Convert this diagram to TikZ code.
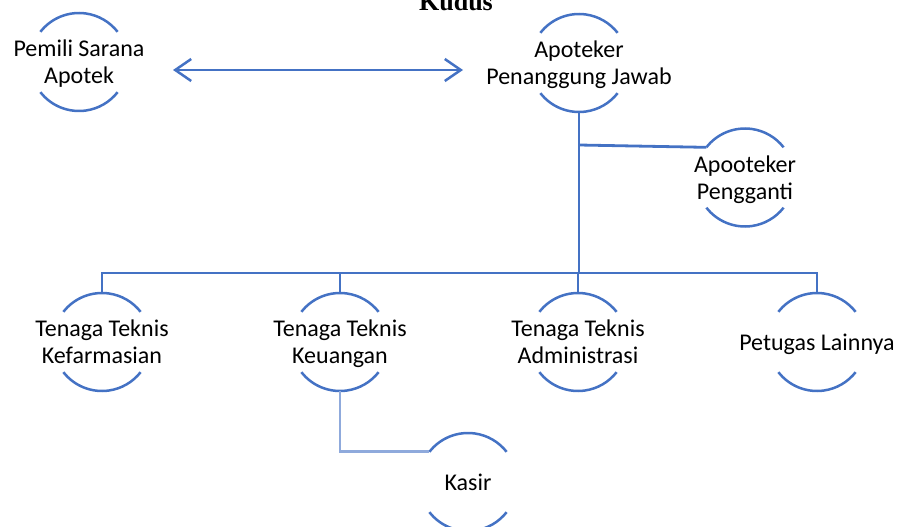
\documentclass[tikz,border=0pt]{standalone}
\usepackage{fontspec}
\setmainfont{Carlito}
\newfontfamily\titlefont{Liberation Serif}
\usetikzlibrary{calc,arrows.meta}
\definecolor{orgblue}{HTML}{4472C4}
\definecolor{lightorg}{HTML}{8FAADC}
% arcs are centred 3pt above the text centre
\newcommand\orgarcs[1]{%
  \draw[arcline] ($(#1.center)+(0,3)+(142:49pt)$) arc[start angle=142,end angle=38,radius=49pt];
  \draw[arcline] ($(#1.center)+(0,3)+(218:49pt)$) arc[start angle=218,end angle=322,radius=49pt];}
\newcommand\orgln[1]{\strut#1}
\begin{document}
\begin{tikzpicture}[x=1pt,y=1pt,
  lbl/.style={align=center,font=\fontsize{24}{27}\selectfont,inner sep=0pt},
  arcline/.style={draw=orgblue,line width=2.5pt},
  conn/.style={draw=orgblue,line width=2.8pt},
  kconn/.style={draw=lightorg,line width=2.8pt},
  barb/.tip={Straight Barb[length=16pt,width=22pt,line width=2.5pt]}]
\useasboundingbox (0,0) rectangle (898,-527);
\node[anchor=base,font=\titlefont\bfseries\fontsize{26}{30}\selectfont,inner sep=0pt] (title) at (456,-11) {Kudus};
\node[lbl] (pem) at (79,-65) {\orgln{Pemili Sarana}\\\orgln{Apotek}};
\node[lbl] (apj) at (579,-66) {\orgln{Apoteker}\\\orgln{Penanggung Jawab}};
\node[lbl] (apg) at (745,-180.5) {\orgln{Apooteker}\\\orgln{Pengganti}};
\node[lbl] (ttk) at (102,-345) {\orgln{Tenaga Teknis}\\\orgln{Kefarmasian}};
\node[lbl] (ttu) at (340,-345) {\orgln{Tenaga Teknis}\\\orgln{Keuangan}};
\node[lbl] (tta) at (578,-345) {\orgln{Tenaga Teknis}\\\orgln{Administrasi}};
\node[lbl] (pl) at (817,-345) {\orgln{Petugas Lainnya}};
\node[lbl] (ks) at (468,-485) {\orgln{Kasir}};
\orgarcs{pem}\orgarcs{apj}\orgarcs{apg}\orgarcs{ttk}\orgarcs{ttu}\orgarcs{tta}\orgarcs{pl}\orgarcs{ks}
% arrow
\draw[conn,line width=2.5pt,barb-barb] ($(pem.center)+(94,-5)$) -- ($(apj.center)+(-116,-4)$);
% trunk
\draw[conn] ($(apj.center)+(0,-46)$) -- ($(apj.center)+(0,-207)$);
\draw[conn] ($(apj.center)+(0,-79)$) -- ($(apg.center)+(0,3)+(142:49pt)$);
% bus
\draw[conn] ($(ttk.center)+(0,52)$) -- ++(0,20) -| ($(pl.center)+(0,52)$);
\draw[conn] ($(ttu.center)+(0,52)$) -- ++(0,20);
\draw[conn] ($(tta.center)+(0,52)$) -- ++(0,20);
% kasir
\draw[kconn] ($(ttu.center)+(0,-46)$) |- ($(ks.center)+(0,3)+(142:49pt)$);
\end{tikzpicture}
\end{document}
